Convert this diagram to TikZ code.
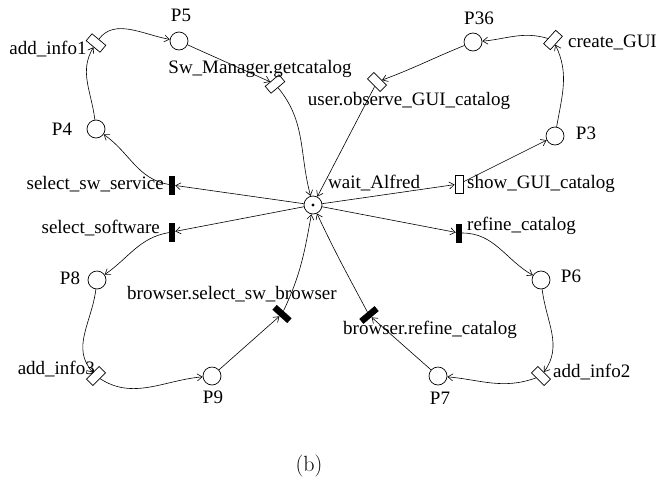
\documentclass[tikz,border=0pt]{standalone}
\usepackage{fontspec}
\newfontfamily\timesfont{Liberation Serif}
\usetikzlibrary{arrows.meta}
\begin{document}
\begin{tikzpicture}[x=1pt,y=1pt,
  place/.style={circle,draw,minimum size=18pt,inner sep=0pt,line width=0.7pt},
  wtrans/.style={rectangle,draw,fill=white,minimum width=18pt,minimum height=9pt,inner sep=0pt,line width=0.7pt},
  btrans/.style={rectangle,fill=black,minimum width=6pt,minimum height=19pt,inner sep=0pt},
  tbar/.style={rectangle,fill=black,minimum width=20pt,minimum height=6.5pt,inner sep=0pt},
  lbl/.style={font=\timesfont\fontsize{19}{21}\selectfont,inner sep=0pt,text height=13pt,text depth=4pt},
  arc/.style={-{Straight Barb[length=5pt,width=7pt]},line width=0.6pt}]
\useasboundingbox (0,0) rectangle (658,-485);

% places
\node[place] (wait) at (313,-205) {};
\fill (wait.center) circle (1.6pt);
\node[place] (P5)  at (179,-41) {};
\node[place] (P4)  at (96,-129) {};
\node[place] (P36) at (473,-42) {};
\node[place] (P3)  at (555,-136) {};
\node[place] (P8)  at (97,-280) {};
\node[place] (P6)  at (541,-280) {};
\node[place] (P9)  at (212,-376) {};
\node[place] (P7)  at (438,-376) {};

% transitions
\node[wtrans,rotate=-40] (ai1)  at (96,-43) {};
\node[wtrans,rotate=40]  (swm)  at (275,-84) {};
\node[wtrans,rotate=-45] (uo)   at (377,-82) {};
\node[wtrans,rotate=48]  (cgui) at (553,-40) {};
\node[rectangle,draw,fill=white,minimum width=8pt,minimum height=18pt,inner sep=0pt,line width=0.7pt] (sgui) at (459,-184) {};
\node[btrans] (ssvc) at (172,-185) {};
\node[btrans] (ssw)  at (172,-232) {};
\node[btrans] (rc)   at (459,-233) {};
\node[tbar,rotate=-42] (bssb) at (282,-314) {};
\node[tbar,rotate=40]  (brc)  at (369,-315) {};
\node[wtrans,rotate=45]  (ai3)  at (96,-376) {};
\node[wtrans,rotate=-45] (ai2)  at (541,-376) {};

% labels
\node[lbl] (lP5)   at (181,-17) {P5};
\node[lbl] (lai1)  at (48,-50) {add\_info1};
\node[lbl] (lswm)  at (260,-69) {Sw\_Manager.getcatalog};
\node[lbl] (lP4)   at (62,-131) {P4};
\node[lbl,anchor=east] (lssvc) at (164,-185) {select\_sw\_service};
\node[lbl] (lP36)  at (479,-20) {P36};
\node[lbl,anchor=west] (lcgui) at (568,-43) {create\_GUI};
\node[lbl] (luo)   at (409,-101) {user.observe\_GUI\_catalog};
\node[lbl] (lP3)   at (586,-135) {P3};
\node[lbl,anchor=west] (lwait) at (328,-184) {wait\_Alfred};
\node[lbl,anchor=west] (lsgui) at (467,-184) {show\_GUI\_catalog};
\node[lbl,anchor=east] (lssw)  at (160,-229) {select\_software};
\node[lbl,anchor=west] (lrc)   at (467,-226) {refine\_catalog};
\node[lbl] (lP8)   at (70,-280) {P8};
\node[lbl] (lP6)   at (571,-278) {P6};
\node[lbl,anchor=west] (lbssb) at (127,-295) {browser.select\_sw\_browser};
\node[lbl,anchor=west] (lbrc)  at (343,-330) {browser.refine\_catalog};
\node[lbl,anchor=east] (lai3)  at (95,-370) {add\_info3};
\node[lbl] (lP9)   at (213,-399) {P9};
\node[lbl] (lP7)   at (440,-400) {P7};
\node[lbl,anchor=west] (lai2)  at (553,-373) {add\_info2};
\node[font=\fontsize{22}{25}\selectfont,inner sep=0pt] (cap) at (309,-466) {(b)};

% arcs
\draw[arc] (wait) -- (ssvc);
\draw[arc] (ssvc) to[out=170,in=-35] (P4);
\draw[arc] (P4) to[out=97,in=-115] (ai1);
\draw[arc] (ai1) to[out=60,in=170] (P5);
\draw[arc] (P5) -- (swm);
\draw[arc] (swm) to[out=-55,in=105] (wait);

\draw[arc] (wait) -- (sgui);
\draw[arc] (sgui) -- (P3);
\draw[arc] (P3) to[out=80,in=-70] (cgui);
\draw[arc] (cgui) to[out=150,in=5] (P36);
\draw[arc] (P36) to[out=-158,in=30] (uo);
\draw[arc] (uo) -- (wait);

\draw[arc] (wait) -- (ssw);
\draw[arc] (ssw) to[out=190,in=35] (P8);
\draw[arc] (P8) to[out=-97,in=125] (ai3);
\draw[arc] (ai3) to[out=-40,in=185] (P9);
\draw[arc] (P9) -- (bssb);
\draw[arc] (bssb) to[out=68,in=-100] (wait);

\draw[arc] (wait) -- (rc);
\draw[arc] (rc) to[out=0,in=150] (P6);
\draw[arc] (P6) to[out=-83,in=60] (ai2);
\draw[arc] (ai2) to[out=-150,in=-5] (P7);
\draw[arc] (P7) -- (brc);
\draw[arc] (brc) to[out=115,in=-65] (wait);
\end{tikzpicture}
\end{document}
